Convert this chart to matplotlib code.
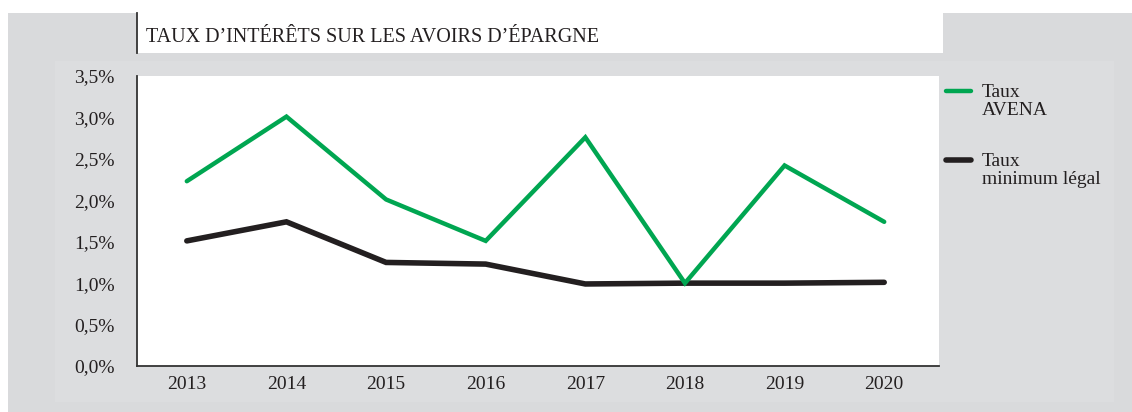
import matplotlib
matplotlib.use("Agg")
import matplotlib.pyplot as plt
from matplotlib.patches import Rectangle
from matplotlib.lines import Line2D

years = ["2013", "2014", "2015", "2016", "2017", "2018", "2019", "2020"]
taux_avena = [2.23, 3.01, 2.01, 1.51, 2.76, 1.00, 2.42, 1.74]
taux_minimum = [1.51, 1.74, 1.25, 1.23, 0.99, 1.00, 1.00, 1.01]
yticks = [0.0, 0.5, 1.0, 1.5, 2.0, 2.5, 3.0, 3.5]
ytick_labels = ["0,0%", "0,5%", "1,0%", "1,5%", "2,0%", "2,5%", "3,0%", "3,5%"]
title = "TAUX D’INTÉRÊTS SUR LES AVOIRS D’ÉPARGNE"
legend_labels = ["Taux\nAVENA", "Taux\nminimum légal"]

W, H = 1132, 412
GREEN = "#00a651"
BLACK = "#231f20"
FONT = ["Liberation Serif", "DejaVu Serif"]

fig = plt.figure(figsize=(W / 100, H / 100), dpi=100)
fig.patch.set_facecolor("white")

def px_rect(x0, y0, x1, y1, color, z=0):
    fig.patches.append(Rectangle((x0 / W, 1 - y1 / H), (x1 - x0) / W, (y1 - y0) / H,
                                 transform=fig.transFigure, facecolor=color,
                                 edgecolor="none", zorder=z))

px_rect(8, 13, W, H, "#d9dadc", 0)
px_rect(55, 61, 1114, 402, "#dcdddf", 1)
px_rect(137, 13, 943, 53, "white", 2)
fig.lines.append(Line2D([137 / W, 137 / W], [1 - 13 / H, 1 - 53 / H],
                        transform=fig.transFigure, color="#333333", lw=1.3, zorder=3))
fig.text(146 / W, 1 - 42 / H, title, fontsize=14.5, family=FONT, color="#231f20",
         ha="left", va="baseline", zorder=4)

ax = fig.add_axes([137 / W, 1 - 366 / H, (939 - 137) / W, (366 - 76) / H])
ax.set_zorder(5)
ax.set_facecolor("white")
x = list(range(len(years)))
ax.plot(x, taux_avena, color=GREEN, lw=3.2, solid_capstyle="round",
        solid_joinstyle="miter", zorder=3)
ax.plot(x, taux_minimum, color=BLACK, lw=4.0, solid_capstyle="round",
        solid_joinstyle="miter", zorder=2)
ax.set_xlim(-0.5, 7.55)
ax.set_ylim(0, 3.5)
ax.set_xticks(x)
ax.set_xticklabels(years)
ax.set_yticks(yticks)
ax.set_yticklabels(ytick_labels)
for lbl in ax.get_xticklabels() + ax.get_yticklabels():
    lbl.set_family(FONT)
    lbl.set_fontsize(14)
    lbl.set_color("#231f20")
ax.tick_params(axis="both", length=0)
ax.tick_params(axis="x", pad=7)
ax.tick_params(axis="y", pad=16)
for s in ["top", "right"]:
    ax.spines[s].set_visible(False)
for s in ["left", "bottom"]:
    ax.spines[s].set_color("#333333")
    ax.spines[s].set_linewidth(1.3)

# legend
for i, (lab, col, lw, ly) in enumerate([(legend_labels[0], GREEN, 3.2, 91),
                                         (legend_labels[1], BLACK, 4.0, 160)]):
    fig.lines.append(Line2D([946 / W, 971 / W], [1 - ly / H, 1 - ly / H],
                            transform=fig.transFigure, color=col, lw=lw,
                            solid_capstyle="round", zorder=6))
    fig.text(982 / W, 1 - (ly - 7) / H, lab, fontsize=14, family=FONT,
             color="#231f20", ha="left", va="top", linespacing=1.05, zorder=6)

fig.savefig("out.png", dpi=100)
